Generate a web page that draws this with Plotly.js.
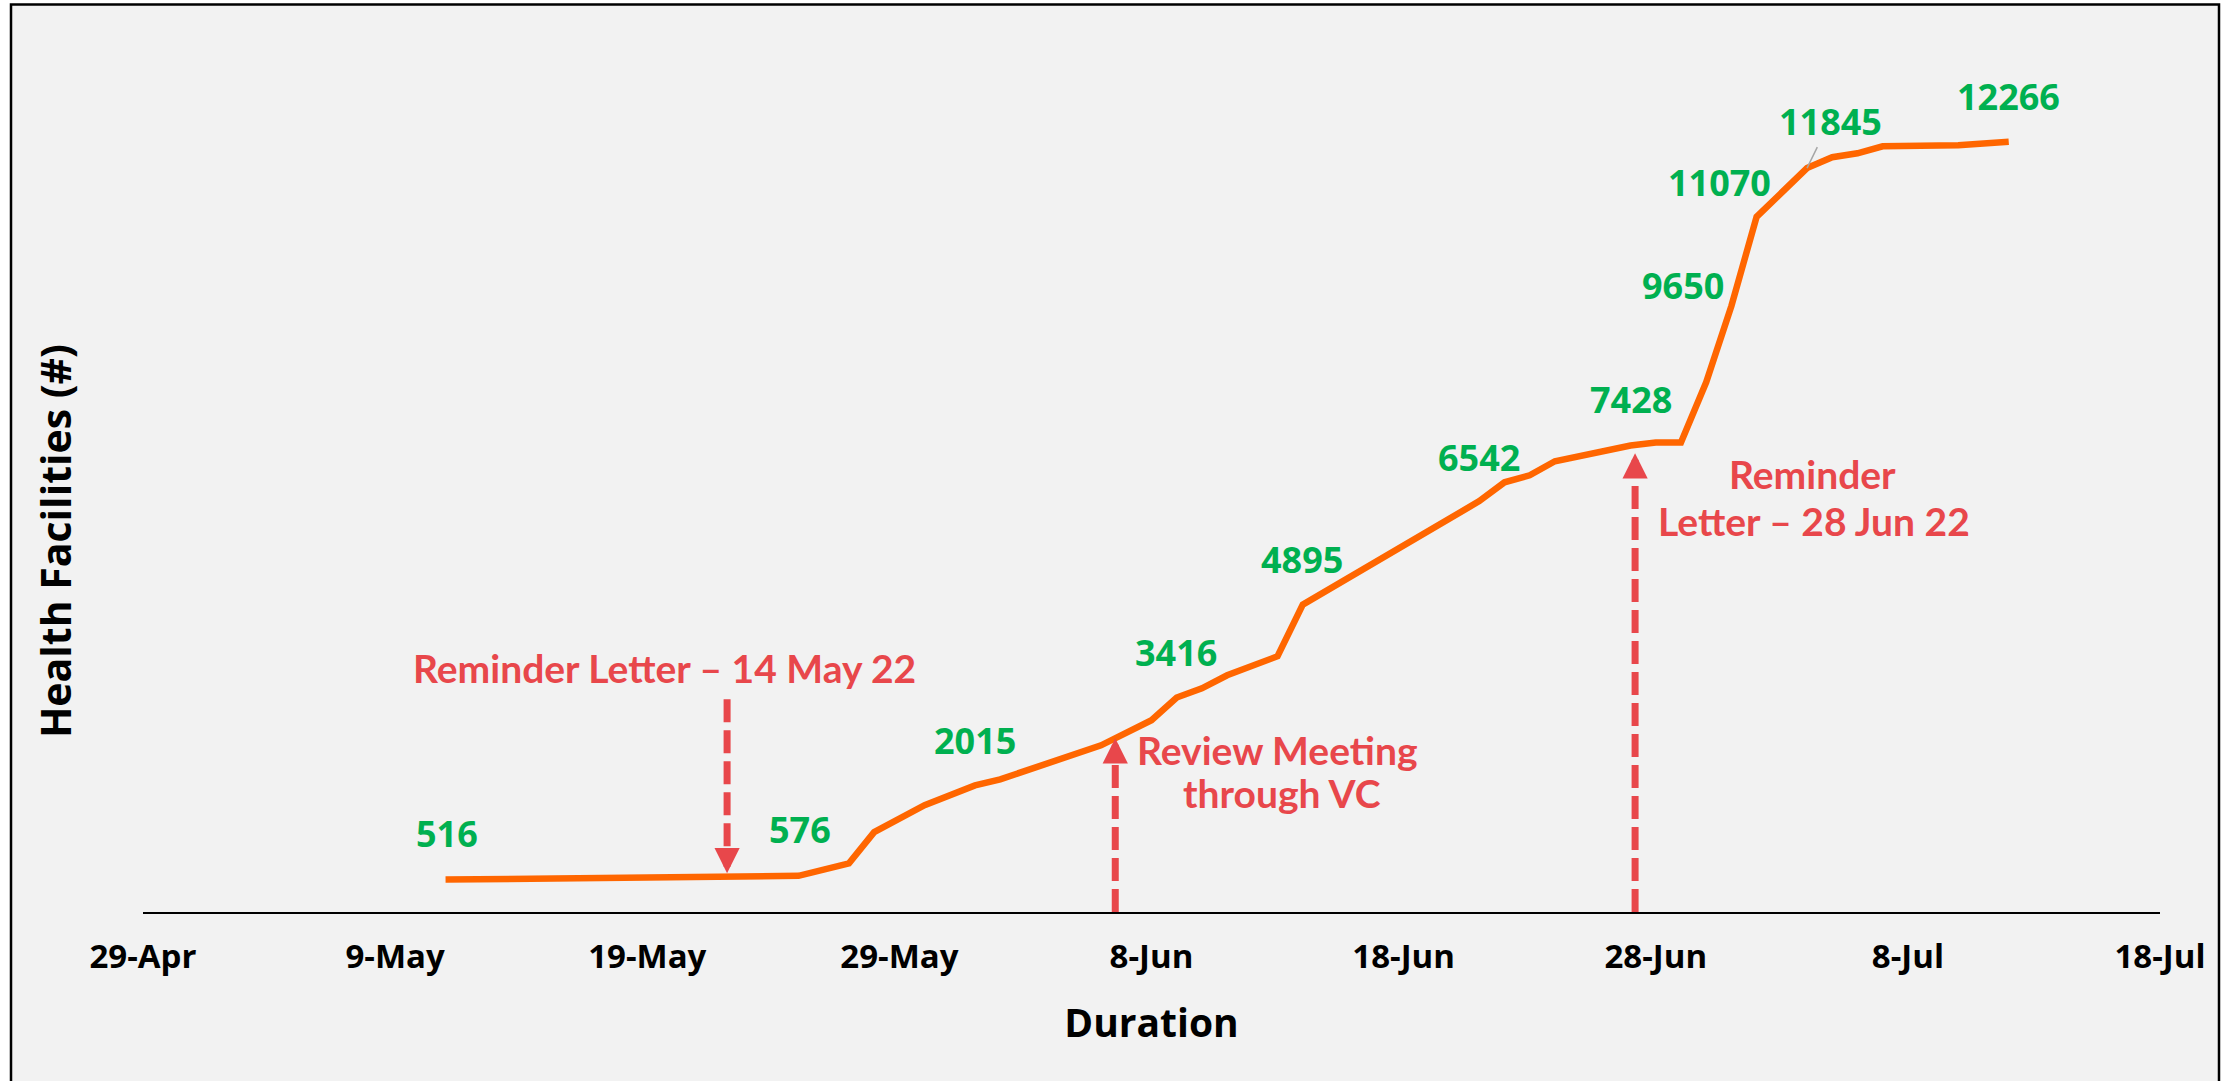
<!DOCTYPE html>
<html>
<head>
<meta charset="utf-8">
<script src="https://cdn.plot.ly/plotly-3.0.1.min.js"></script>
<style>html,body{margin:0;padding:0;background:#fff;}#chart{width:2234px;height:1081px;}</style>
</head>
<body>
<div id="chart"></div>
<script>
// ---- data ----
var dates = ['2022-05-11','2022-05-25','2022-05-27','2022-05-28','2022-05-30','2022-06-01','2022-06-02','2022-06-06','2022-06-08','2022-06-09','2022-06-10','2022-06-11','2022-06-13','2022-06-14','2022-06-21','2022-06-22','2022-06-23','2022-06-24','2022-06-27','2022-06-28','2022-06-29','2022-06-30','2022-07-01','2022-07-02','2022-07-04','2022-07-05','2022-07-06','2022-07-07','2022-07-10','2022-07-12'];
var facilities = [516,576,775,1272,1702,2015,2113,2654,3053,3416,3562,3769,4072,4895,6542,6842,6954,7177,7428,7475,7475,8435,9650,11070,11845,12018,12081,12193,12209,12266];
var labelledValues = [516,576,2015,3416,4895,6542,7428,9650,11070,11845,12266];
var tickDates = ['2022-04-29','2022-05-09','2022-05-19','2022-05-29','2022-06-08','2022-06-18','2022-06-28','2022-07-08','2022-07-18'];
var tickLabels = ['29-Apr','9-May','19-May','29-May','8-Jun','18-Jun','28-Jun','8-Jul','18-Jul'];
var eventLines = [['Reminder Letter \u2013 14 May 22'], ['Review Meeting','through VC'], ['Reminder','Letter \u2013 28 Jun 22']];
var eventDates = ['2022-05-22 04:00','2022-06-06 13:30','2022-06-27 04:20'];
var eventTipValues = [616, 2766, 7304];
var eventTailValues = [3387, 0, 0];

// ---- styles ----
var GREEN = '#00B050', RED = '#E8474B', ORANGE = '#FF6600';
var numFont = {family:'Open Sans, sans-serif', size:36, color:GREEN, weight:'bold'};
var redFont = {family:'Lato, sans-serif', size:39, color:RED, weight:'bold'};
// label offsets (px) keyed by value
var labelShift = {516:[1,46],576:[1,46],2015:[0,45],3416:[-1,45],4895:[-1,45],6542:[0,44],7428:[0,46],9650:[-48,20],11070:[-37,34],12266:[0,45]};
// pixel centre of each text line
var eventLinePx = [[[664,668]], [[1277,750],[1282,793]], [[1812,474],[1814,521]]];
var eventDir = [-1, 1, 1]; // -1: arrow points down, 1: points up

var L=143, R=74, T=40, B=169, W=2234, H=1081;
var plotW = W-L-R, plotH = H-T-B;
function px2paperX(p){return (p-L)/plotW;}
function px2paperY(p){return (H-B-p)/plotH;}

var annotations = [];
labelledValues.forEach(function(v){
  var i = facilities.indexOf(v);
  if(v === 11845){
    annotations.push({x:dates[i], y:v, xref:'x', yref:'y', text:String(v), showarrow:true,
      ax:23, ay:-47, arrowhead:0, arrowwidth:1.5, arrowcolor:'#A6A6A6', standoff:0, font:numFont});
  } else {
    var s = labelShift[v];
    annotations.push({x:dates[i], y:v, xref:'x', yref:'y', text:String(v), showarrow:false,
      xanchor:'center', yanchor:'middle', xshift:s[0], yshift:s[1], font:numFont});
  }
});
var shapes = [{
  type:'rect', xref:'paper', yref:'paper', layer:'below',
  x0:px2paperX(11), x1:px2paperX(2219), y0:px2paperY(1100), y1:px2paperY(4.5),
  fillcolor:'#F2F2F2', line:{color:'#000', width:2.5}
}];
eventLines.forEach(function(lines, k){
  lines.forEach(function(t, j){
    annotations.push({x:px2paperX(eventLinePx[k][j][0]), y:px2paperY(eventLinePx[k][j][1]), xref:'paper', yref:'paper',
      xanchor:'center', yanchor:'middle', text:t, showarrow:false, font:redFont, align:'center'});
  });
  // arrow head
  annotations.push({x:eventDates[k], y:eventTipValues[k], xref:'x', yref:'y', text:' ',
    showarrow:true, ax:0, ay:(eventDir[k] < 0 ? -24 : 24), arrowhead:2, arrowsize:0.72,
    arrowwidth:7, arrowcolor:RED, standoff:0, font:{size:2}});
  // dashed shaft (from tail to head base)
  var headLen = 23 / (plotH / 13885);
  var headBase = eventTipValues[k] - eventDir[k]*headLen;
  shapes.push({type:'line', xref:'x', yref:'y', x0:eventDates[k], x1:eventDates[k],
    y0:eventTailValues[k], y1:headBase, line:{color:RED, width:7, dash:'23px,8px'}});
});
annotations.push({x:px2paperX(55), y:px2paperY(541), xref:'paper', yref:'paper',
  xanchor:'center', yanchor:'middle',
  text:'Health Facilities (#)', textangle:-90, showarrow:false,
  font:{family:'Open Sans, sans-serif', size:41, color:'#000', weight:'bold'}});

var trace = {x:dates, y:facilities, type:'scatter', mode:'lines',
  line:{color:ORANGE, width:6.5}, hoverinfo:'skip', showlegend:false};

var layout = {
  width:W, height:H, margin:{l:L, r:R, t:T, b:B, autoexpand:false},
  paper_bgcolor:'#FFFFFF', plot_bgcolor:'rgba(0,0,0,0)', showlegend:false,
  xaxis:{type:'date', range:['2022-04-29','2022-07-18'], tickvals:tickDates, ticktext:tickLabels,
    showgrid:false, zeroline:false, showline:true, linecolor:'#000', linewidth:2, ticks:'',
    ticklabelstandoff:14, automargin:false,
    tickfont:{family:'Open Sans, sans-serif', size:33, color:'#000', weight:'bold'},
    title:{text:'Duration', standoff:33, font:{family:'Open Sans, sans-serif', size:39, color:'#000', weight:'bold'}}},
  yaxis:{range:[0,13885], showgrid:false, zeroline:false, showline:false, showticklabels:false, ticks:'', automargin:false},
  annotations:annotations, shapes:shapes
};
Plotly.newPlot('chart', [trace], layout, {displayModeBar:false, staticPlot:true});
</script>
</body>
</html>
